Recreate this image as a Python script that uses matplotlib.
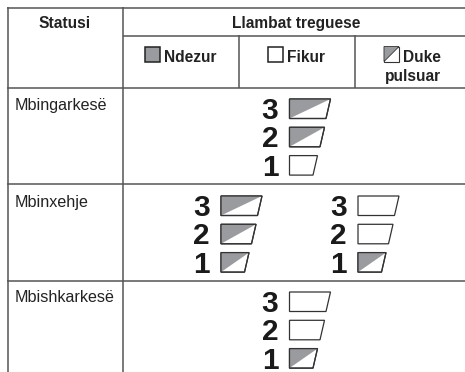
import matplotlib
matplotlib.use('Agg')
import matplotlib.pyplot as plt
from matplotlib.patches import Polygon

plt.rcParams['font.family'] = ['Liberation Sans', 'DejaVu Sans']

statuses = ['Mbingarkesë', 'Mbinxehje', 'Mbishkarkesë']
status_y = [110, 207, 302]
header_status = 'Statusi'
header_lamps = 'Llambat treguese'
states = ['Ndezur', 'Fikur', 'Duke\npulsuar']
levels = ['3', '2', '1']

# lamp states top to bottom, one list per column of lamps
overload = [['half', 'half', 'off']]
overheat = [['half', 'half', 'half'], ['off', 'off', 'half']]
discharge = [['off', 'off', 'half']]

GRAY = '#9a9b9f'
EDGE = '#333333'
LINE = '#555555'
TEXT = '#222222'
widths = [41, 35, 28]

fig = plt.figure(figsize=(4.65, 3.72), dpi=100)
ax = fig.add_axes([0, 0, 1, 1])
ax.set_xlim(0, 465)
ax.set_ylim(372, 0)
ax.axis('off')

def hline(y, x0, x1):
    ax.plot([x0, x1], [y, y], color=LINE, lw=1.1, solid_capstyle='butt')

def vline(x, y0, y1):
    ax.plot([x, x], [y0, y1], color=LINE, lw=1.1, solid_capstyle='butt')

hline(7.5, 7, 465)
hline(35.5, 123, 465)
hline(87.5, 7, 465)
hline(184, 7, 465)
hline(281, 7, 465)
vline(7.5, 7, 372)
vline(122.5, 7, 372)
vline(238.5, 35, 88)
vline(354.5, 35, 88)

def lamp(x, y, w, state):
    h = 19.5
    pts = [(x, y), (x + w, y), (x + w - 4.5, y + h), (x, y + h)]
    ax.add_patch(Polygon(pts, closed=True, fc='white', ec=EDGE, lw=0.9, zorder=3))
    if state == 'half':
        tri = [(x, y), (x + w, y), (x, y + h)]
        ax.add_patch(Polygon(tri, closed=True, fc=GRAY, ec='none', zorder=4))
        ax.add_patch(Polygon(pts, closed=True, fc='none', ec=EDGE, lw=0.9, zorder=5))

def lamp_stack(x, y0, column):
    for i, state in enumerate(column):
        y = y0 + i * 28.3
        lamp(x, y, widths[i], state)
        ax.text(x - 11, y + 20, levels[i], ha='right', va='baseline',
                fontsize=21.5, fontweight='bold', color='#1a1a1a')

lamp_stack(289.5, 99, overload[0])
lamp_stack(221, 196, overheat[0])
lamp_stack(358, 196, overheat[1])
lamp_stack(289.5, 292, discharge[0])

# header texts
ax.text(65, 28, header_status, ha='center', va='baseline', fontsize=11.2, fontweight='bold', color=TEXT)
ax.text(296, 28, header_lamps, ha='center', va='baseline', fontsize=11.2, fontweight='bold', color=TEXT)
ax.text(164, 62.5, states[0], ha='left', va='baseline', fontsize=11.2, fontweight='bold', color=TEXT)
ax.text(287, 62.5, states[1], ha='left', va='baseline', fontsize=11.2, fontweight='bold', color=TEXT)
ax.text(403, 62.5, states[2].split('\n')[0], ha='left', va='baseline', fontsize=11.2, fontweight='bold', color=TEXT)
ax.text(413, 81, states[2].split('\n')[1], ha='center', va='baseline', fontsize=11.2, fontweight='bold', color=TEXT)

for name, y in zip(statuses, status_y):
    ax.text(14.5, y, name, ha='left', va='baseline', fontsize=11.6, color=TEXT)

# legend squares next to the state names
ax.add_patch(Polygon([(144.5, 46.5), (159.5, 46.5), (159.5, 61.5), (144.5, 61.5)], closed=True, fc=GRAY, ec='#222222', lw=1.1))
ax.add_patch(Polygon([(268, 46.5), (283, 46.5), (283, 61.5), (268, 61.5)], closed=True, fc='white', ec='#222222', lw=1.1))
ax.add_patch(Polygon([(384, 46.5), (399, 46.5), (399, 61.5), (384, 61.5)], closed=True, fc='white', ec=EDGE, lw=0.8))
ax.add_patch(Polygon([(384, 46.5), (399, 46.5), (384, 61.5)], closed=True, fc=GRAY, ec=EDGE, lw=0.6))

fig.savefig('out.png', dpi=100)
